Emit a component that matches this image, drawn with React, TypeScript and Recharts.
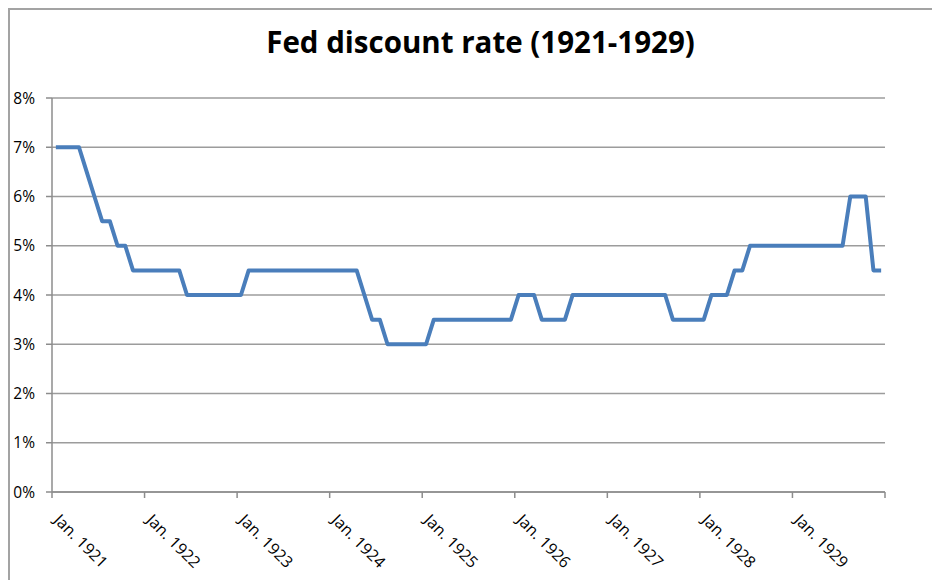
import React from "react";
import { LineChart, Line, XAxis, YAxis, CartesianGrid } from "recharts";

const years = [1921, 1922, 1923, 1924, 1925, 1926, 1927, 1928, 1929];
const monthNames = ["Jan", "Feb", "Mar", "Apr", "May", "Jun", "Jul", "Aug", "Sep", "Oct", "Nov", "Dec"];

const rates1921 = [7, 7, 7, 7, 6.5, 6, 5.5, 5.5, 5, 5, 4.5, 4.5];
const rates1922 = [4.5, 4.5, 4.5, 4.5, 4.5, 4, 4, 4, 4, 4, 4, 4];
const rates1923 = [4, 4.5, 4.5, 4.5, 4.5, 4.5, 4.5, 4.5, 4.5, 4.5, 4.5, 4.5];
const rates1924 = [4.5, 4.5, 4.5, 4.5, 4, 3.5, 3.5, 3, 3, 3, 3, 3];
const rates1925 = [3, 3.5, 3.5, 3.5, 3.5, 3.5, 3.5, 3.5, 3.5, 3.5, 3.5, 3.5];
const rates1926 = [4, 4, 4, 3.5, 3.5, 3.5, 3.5, 4, 4, 4, 4, 4];
const rates1927 = [4, 4, 4, 4, 4, 4, 4, 4, 3.5, 3.5, 3.5, 3.5];
const rates1928 = [3.5, 4, 4, 4, 4.5, 4.5, 5, 5, 5, 5, 5, 5];
const rates1929 = [5, 5, 5, 5, 5, 5, 5, 6, 6, 6, 4.5, 4.5];

const tickLabels = [
  "Jan. 1921",
  "Jan. 1922",
  "Jan. 1923",
  "Jan. 1924",
  "Jan. 1925",
  "Jan. 1926",
  "Jan. 1927",
  "Jan. 1928",
  "Jan. 1929",
];
const yTicks = [0, 1, 2, 3, 4, 5, 6, 7, 8];

const allRates = [rates1921, rates1922, rates1923, rates1924, rates1925, rates1926, rates1927, rates1928, rates1929];

const data = years.flatMap((yr, yi) =>
  allRates[yi].map((r, m) => ({ idx: yi * 12 + m, month: `${monthNames[m]} ${yr}`, rate: r }))
);

const xTicks = [...tickLabels.map((_, i) => i * 12 - 0.5), data.length - 0.5];

const FONT = "'Open Sans', sans-serif";
const W = 924;
const H = 572;

const XTick = (props: any) => {
  const { x, y, payload } = props;
  const i = Math.round((payload.value + 0.5) / 12);
  const label = tickLabels[i] ?? "";
  if (!label) return null;
  const ox = x + 1;
  const oy = y + 21;
  return (
    <text
      x={ox}
      y={oy}
      transform={`rotate(45, ${ox}, ${oy})`}
      textAnchor="start"
      fontFamily={FONT}
      fontSize={16}
      fill="#000"
    >
      {label}
    </text>
  );
};

export default function App() {
  return (
    <div style={{ position: "relative", width: W, height: H, fontFamily: FONT }}>
      <div
        style={{
          position: "absolute",
          left: 0,
          top: 0,
          width: W,
          height: H,
          borderTop: "2px solid #a3a3a3",
          borderLeft: "2px solid #a3a3a3",
          boxSizing: "border-box",
        }}
      />
      <svg style={{ position: "absolute", left: 0, top: 0 }} width={W} height={80}>
        <text x={472.5} y={45} textAnchor="middle" fontFamily={FONT} fontWeight={700} fontSize={29.5} fill="#000">
          Fed discount rate (1921-1929)
        </text>
      </svg>
      <div style={{ position: "absolute", left: 0, top: 0 }}>
        <LineChart width={W} height={H} data={data} margin={{ top: 90, right: 47, bottom: 0, left: 4 }}>
          <CartesianGrid vertical={false} stroke="#9c9c9c" strokeWidth={1.5} />
          <XAxis
            type="number"
            dataKey="idx"
            domain={[-0.5, data.length - 0.5]}
            ticks={xTicks}
            interval={0}
            height={88}
            tickSize={6}
            tickMargin={2}
            tick={<XTick />}
            axisLine={{ stroke: "#8c8c8c", strokeWidth: 1.5 }}
            tickLine={{ stroke: "#8c8c8c", strokeWidth: 1.5 }}
          />
          <YAxis
            type="number"
            domain={[0, 8]}
            ticks={yTicks}
            interval={0}
            width={40}
            tickSize={6}
            tickMargin={11}
            tickFormatter={(v: number) => `${v}%`}
            tick={{ fontFamily: FONT, fontSize: 15.5, fill: "#000" }}
            axisLine={{ stroke: "#8c8c8c", strokeWidth: 1.5 }}
            tickLine={{ stroke: "#8c8c8c", strokeWidth: 1.5 }}
          />
          <Line
            type="linear"
            dataKey="rate"
            stroke="#4a7ebb"
            strokeWidth={4}
            strokeLinejoin="round"
            dot={false}
            activeDot={false}
            isAnimationActive={false}
          />
        </LineChart>
      </div>
    </div>
  );
}
